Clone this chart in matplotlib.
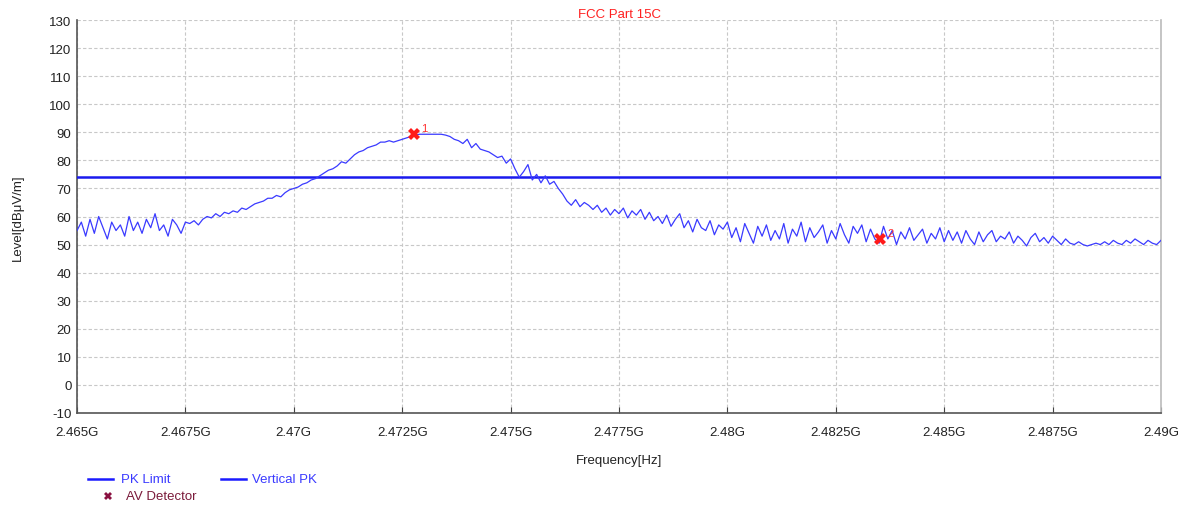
import numpy as np
import matplotlib
matplotlib.use("Agg")
import matplotlib.pyplot as plt
from matplotlib.lines import Line2D

plt.rcParams['font.family'] = ['Liberation Sans', 'DejaVu Sans']
plt.rcParams['axes.unicode_minus'] = False

# ---- data ----
freq_start_ghz = 2.465
freq_stop_ghz = 2.490

level_db = [
    # 2.4650 - 2.4675
    55, 58, 53, 59, 54, 60, 56, 52, 58, 55, 57, 53, 60, 55, 58, 54, 59, 56, 61, 55,
    57, 53, 59, 57, 54, 58,
    # 2.4676 - 2.4700
    57.5, 58.5, 57, 59, 60, 59.5, 61, 60, 61.5, 61, 62, 61.5, 63, 62.5, 63.5, 64.5,
    65, 65.5, 66.5, 66.5, 67.5, 67, 68.5, 69.5, 70,
    # 2.4701 - 2.4750
    70.5, 71.5, 72, 73, 73.5, 74.5, 75.5, 76.5, 77, 78, 79.5, 79, 80.5, 82, 83, 83.5,
    84.5, 85, 85.5, 86.5, 86.5, 87, 86.5, 87, 87.5, 88, 88.5, 89, 89.3, 89.3, 89.3,
    89.3, 89.3, 89.3, 89, 88.5, 87.5, 87, 86, 87.5, 84.5, 86, 84, 83.5, 83, 82, 81,
    81.5, 79, 80.5,
    # 2.4751 - 2.4800
    77, 74, 76, 78.5, 73, 75, 72, 74.5, 71.5, 72.5, 70, 68, 65.5, 64, 66, 63.5, 65,
    64, 62.5, 64, 61.5, 63, 60.5, 62.5, 61, 63, 59.5, 62, 60.5, 62.5, 59, 61.5, 58.5,
    60, 57.5, 60.5, 56.5, 59, 61, 56, 58.5, 54.5, 59, 56, 55, 58.5, 53.5, 57, 55.5, 58,
    # 2.4801 - 2.4850
    52.5, 56, 51, 57.5, 54, 50.5, 56.5, 53, 57, 51.5, 55, 52, 57.5, 50.5, 55.5, 53, 58,
    51, 56, 52.5, 54.5, 57, 50.5, 55, 52, 57.5, 53.5, 50.5, 56.5, 54, 57, 51, 55.5, 52,
    50.5, 56.5, 52, 55, 50, 54.5, 52, 56, 51.5, 53.5, 55.5, 50.5, 54, 52, 56, 51,
    # 2.4851 - 2.4875
    55, 51.5, 54.5, 50.5, 55, 52, 50, 54.5, 51, 53.5, 55, 51, 53, 52, 54.5, 50.5, 53,
    51.5, 49.5, 52.5, 54, 51, 52.5, 50.5, 53,
    # 2.4876 - 2.4900
    51.5, 50, 52, 50.5, 50, 51, 50, 49.5, 50, 50.5, 50, 51, 50, 51.5, 50.5, 50, 51.5,
    50.5, 52, 51, 50, 51.5, 50.5, 50, 51.5,
]

limit_db = 74.0

marker_freqs = [2.47277, 2.48352]
marker_levels = [89.3, 52.0]
marker_labels = ["1", "2"]

xtick_vals = [2.465, 2.4675, 2.47, 2.4725, 2.475, 2.4775, 2.48, 2.4825, 2.485, 2.4875, 2.49]
xtick_labels = ["2.465G", "2.4675G", "2.47G", "2.4725G", "2.475G", "2.4775G",
                "2.48G", "2.4825G", "2.485G", "2.4875G", "2.49G"]
ytick_vals = list(range(-10, 131, 10))

freqs = np.linspace(freq_start_ghz, freq_stop_ghz, len(level_db))

# ---- figure ----
fig = plt.figure(figsize=(11.86, 5.06), dpi=100)
ax = fig.add_axes([77 / 1186, 1 - 414 / 506, (1161 - 77) / 1186, (414 - 21) / 506])

trace_color = '#3a3aff'
limit_color = '#1a1aee'
ax.axhline(limit_db, color=limit_color, lw=1.8, zorder=3)
ax.plot(freqs, level_db, color=trace_color, lw=0.9, zorder=4)
ax.plot(marker_freqs, marker_levels, linestyle='none', marker='X', ms=8,
        color='#ff1a1a', markeredgewidth=0, zorder=5)
for f, l, t in zip(marker_freqs, marker_levels, marker_labels):
    ax.annotate(t, (f, l), xytext=(5, 2), textcoords='offset points',
                color='#ff3030', fontsize=8, zorder=6)

ax.set_xlim(freq_start_ghz, freq_stop_ghz)
ax.set_ylim(-10, 130)
ax.set_xticks(xtick_vals)
ax.set_xticklabels(xtick_labels)
ax.set_yticks(ytick_vals)
ax.tick_params(axis='x', direction='in', length=4, color='#444444', labelsize=9.5,
               pad=9, labelcolor='#222222')
ax.tick_params(axis='y', direction='out', length=0, labelsize=9.5, pad=4,
               labelcolor='#222222')
ax.grid(True, color='#c8c8c8', linestyle=(0, (3, 2)), linewidth=0.8)
ax.set_axisbelow(True)

ax.spines['top'].set_visible(False)
ax.spines['right'].set_color('#bbbbbb')
ax.spines['right'].set_linewidth(1.2)
ax.spines['left'].set_color('#555555')
ax.spines['left'].set_linewidth(1.2)
ax.spines['bottom'].set_color('#555555')
ax.spines['bottom'].set_linewidth(1.2)

ax.set_title('FCC Part 15C', color='#ff2020', fontsize=9.5, pad=1)
ax.set_xlabel('Frequency[Hz]', fontsize=9.5, color='#222222', labelpad=12)
ax.set_ylabel('Level[dB\u03bcV/m]', fontsize=9.5, color='#222222', labelpad=18)

# ---- legend (drawn in figure coordinates) ----
def fx(px):
    return px / 1186

def fy(py):
    return 1 - py / 506

fig.add_artist(Line2D([fx(88), fx(113)], [fy(480), fy(480)], color='#1a1aff', lw=1.8))
fig.text(fx(121), fy(480), 'PK Limit', color='#3a3aff', fontsize=9.5, va='center')
fig.add_artist(Line2D([fx(221), fx(246)], [fy(480), fy(480)], color='#1a1aff', lw=1.8))
fig.text(fx(252), fy(480), 'Vertical PK', color='#3a3aff', fontsize=9.5, va='center')
fig.add_artist(Line2D([fx(108)], [fy(497)], marker='X', ms=6, color='#8a1040',
                      markeredgewidth=0, linestyle='none'))
fig.text(fx(126), fy(497), 'AV Detector', color='#7a1a3a', fontsize=9.5, va='center')

fig.savefig('out.png', dpi=100)
